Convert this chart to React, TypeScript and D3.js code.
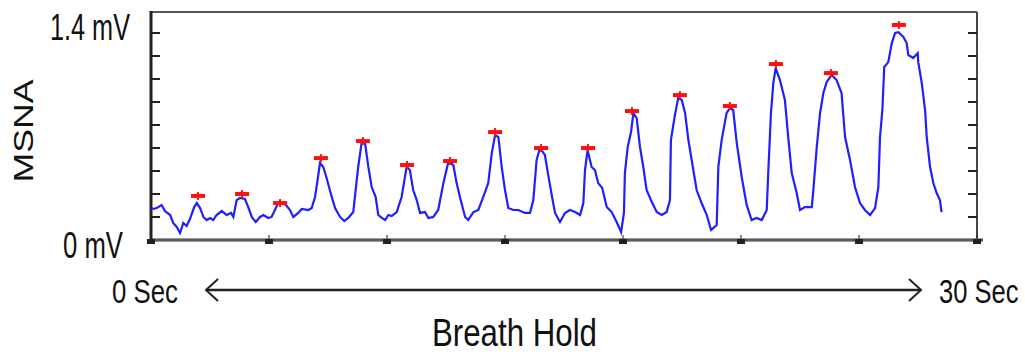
import React from "react";
import * as d3 from "d3";

// MSNA trace: time (s) and amplitude (mV)
const traceTime = [
  0, 0.1, 0.24, 0.45, 0.59, 0.81, 0.94, 1.09, 1.23, 1.37, 1.51, 1.65, 1.83, 1.94, 2.08, 2.22, 2.36, 2.5, 2.64, 2.78,
  3.0, 3.21, 3.39, 3.49, 3.63, 3.77, 3.98, 4.12, 4.27, 4.44, 4.62, 4.76, 4.97, 5.11, 5.25, 5.39, 5.61, 5.75, 5.89, 6.03,
  6.24, 6.39, 6.67, 6.81, 6.95, 7.06, 7.16, 7.3, 7.44, 7.66, 7.8, 8.01, 8.19, 8.36, 8.57, 8.64, 8.78, 8.93, 9.07, 9.21,
  9.35, 9.52, 9.63, 9.78, 9.92, 10.06, 10.2, 10.41, 10.62, 10.83, 10.97, 11.11, 11.26, 11.4, 11.61, 11.75, 11.96, 12.17, 12.39, 12.6,
  12.81, 12.95, 13.09, 13.31, 13.44, 13.66, 13.87, 14.08, 14.29, 14.44, 14.58, 14.72, 14.86, 15.0, 15.14, 15.35, 15.56, 15.85, 16.06, 16.2,
  16.34, 16.48, 16.69, 16.83, 16.98, 17.12, 17.33, 17.54, 17.75, 17.97, 18.18, 18.32, 18.39, 18.5, 18.67, 18.81, 18.95, 19.12, 19.31, 19.52,
  19.73, 19.92, 20.04, 20.08, 20.2, 20.34, 20.44, 20.58, 20.72, 20.86, 21.0, 21.22, 21.43, 21.64, 21.85, 21.99, 22.03, 22.2, 22.34, 22.49,
  22.63, 22.77, 22.91, 23.12, 23.33, 23.55, 23.73, 23.97, 24.04, 24.18, 24.39, 24.53, 24.67, 24.82, 25.03, 25.24, 25.45, 25.66, 25.88, 26.09,
  26.16, 26.27, 26.37, 26.47, 26.65, 26.86, 27.0, 27.15, 27.36, 27.5, 27.71, 28.0, 28.06, 28.21, 28.35, 28.49, 28.63, 28.84, 29.05, 29.26,
  29.41, 29.62, 29.83, 30.04, 30.25, 30.47, 30.68, 30.82, 30.89, 30.99, 31.07, 31.24, 31.39, 31.53, 31.67, 31.88, 32.02, 32.09, 32.3, 32.49,
  32.51, 32.66, 32.8, 32.87, 33.01, 33.15, 33.29, 33.43, 33.5,
];
const traceMv = [
  0.216, 0.21, 0.216, 0.237, 0.196, 0.169, 0.115, 0.088, 0.047, 0.115, 0.095, 0.142, 0.223, 0.25, 0.216, 0.156, 0.135, 0.149, 0.135, 0.169,
  0.196, 0.169, 0.183, 0.156, 0.27, 0.284, 0.277, 0.223, 0.156, 0.122, 0.156, 0.169, 0.149, 0.156, 0.203, 0.25, 0.25, 0.23, 0.203, 0.156,
  0.183, 0.21, 0.203, 0.216, 0.291, 0.406, 0.521, 0.494, 0.419, 0.291, 0.216, 0.156, 0.128, 0.149, 0.189, 0.291, 0.494, 0.663, 0.656, 0.494,
  0.358, 0.291, 0.169, 0.149, 0.135, 0.169, 0.162, 0.189, 0.291, 0.494, 0.473, 0.338, 0.27, 0.183, 0.189, 0.149, 0.156, 0.203, 0.385, 0.527,
  0.507, 0.385, 0.291, 0.156, 0.135, 0.189, 0.203, 0.291, 0.385, 0.588, 0.71, 0.696, 0.494, 0.338, 0.216, 0.203, 0.203, 0.183, 0.183, 0.27,
  0.541, 0.622, 0.575, 0.44, 0.304, 0.183, 0.122, 0.183, 0.203, 0.189, 0.169, 0.25, 0.473, 0.609, 0.494, 0.473, 0.385, 0.352, 0.223, 0.189,
  0.122, 0.054, 0.183, 0.453, 0.629, 0.73, 0.859, 0.825, 0.629, 0.494, 0.338, 0.257, 0.189, 0.169, 0.189, 0.27, 0.676, 0.845, 0.96, 0.947,
  0.859, 0.676, 0.541, 0.338, 0.25, 0.169, 0.068, 0.101, 0.494, 0.676, 0.859, 0.892, 0.879, 0.656, 0.426, 0.237, 0.135, 0.149, 0.135, 0.203,
  0.473, 0.859, 1.062, 1.163, 1.082, 0.947, 0.696, 0.453, 0.318, 0.203, 0.223, 0.223, 0.325, 0.629, 0.859, 0.994, 1.068, 1.116, 1.082, 0.994,
  0.696, 0.541, 0.358, 0.25, 0.203, 0.169, 0.216, 0.358, 0.696, 0.879, 1.17, 1.203, 1.332, 1.4, 1.406, 1.373, 1.332, 1.251, 1.231, 1.264,
  1.203, 1.062, 0.879, 0.696, 0.494, 0.385, 0.318, 0.27, 0.189,
];

// detected burst peaks (red markers)
const peakTime = [1.99, 3.86, 5.47, 7.2, 8.98, 10.85, 12.67, 14.58, 16.53, 18.52, 20.38, 22.41, 24.53, 26.48, 28.81, 31.69];
const peakMv = [0.298, 0.311, 0.25, 0.554, 0.669, 0.507, 0.534, 0.73, 0.622, 0.622, 0.872, 0.98, 0.906, 1.19, 1.129, 1.454];

const xTicks = [0, 5, 10, 15, 20, 25, 30, 35];
const yTicks = [1, 2, 3, 4, 5, 6, 7, 8, 9].map((i) => (i * 1.4) / 9);
const yLabels = ["0 mV", "1.4 mV"];
const yTitle = "MSNA";
const arrowLabels = ["0 Sec", "30 Sec"];
const xTitle = "Breath Hold";

const FONT = "'Liberation Sans Narrow', 'Liberation Sans', Arial, sans-serif";

export default function App() {
  const W = 1025;
  const H = 354;
  const x = d3.scaleLinear().domain([0, 35]).range([151, 977]);
  const y = d3.scaleLinear().domain([0, 1.4]).range([240, 33]);
  const top = 12;

  const data = traceTime.map((t, i) => [t, traceMv[i]] as [number, number]);
  const line = d3
    .line<[number, number]>()
    .x((d) => x(d[0]))
    .y((d) => y(d[1]));

  const x0 = x.range()[0];
  const x1 = x.range()[1];
  const yb = y(0);

  return (
    <svg
      width={W}
      height={H}
      style={{ position: "absolute", left: 0, top: 0, display: "block", background: "#fff" }}
    >
      <rect x={0} y={0} width={W} height={H} fill="#fff" />
      {/* frame */}
      <line x1={x0} x2={x1} y1={top} y2={top} stroke="#555" strokeWidth={2} />
      <line x1={x1} x2={x1} y1={top} y2={yb} stroke="#444" strokeWidth={2} />
      <line x1={x0} x2={x1 + 6} y1={yb} y2={yb} stroke="#9a9a9a" strokeWidth={4} />
      <line x1={x0} x2={x1 + 6} y1={yb} y2={yb} stroke="#444" strokeWidth={1.5} />
      <line x1={x0} x2={x0} y1={top - 1} y2={yb + 1} stroke="#222" strokeWidth={3} />

      {/* y ticks, left and right, inward */}
      {yTicks.map((v, i) => (
        <g key={i}>
          <line x1={x0} x2={x0 + 9} y1={y(v)} y2={y(v)} stroke="#222" strokeWidth={2} />
          <line x1={x1 - 9} x2={x1} y1={y(v)} y2={y(v)} stroke="#222" strokeWidth={2} />
        </g>
      ))}

      {/* x ticks */}
      {xTicks.map((t, i) => (
        <g key={i}>
          <line x1={x(t)} x2={x(t)} y1={yb - 5} y2={yb} stroke="#222" strokeWidth={1} />
          <rect x={x(t) - 4} y={yb - 1} width={8} height={5} fill="#222" />
        </g>
      ))}

      {/* trace */}
      <path d={line(data) ?? ""} fill="none" stroke="#1f1fff" strokeWidth={2.2} strokeLinejoin="miter" />

      {/* peak markers */}
      {peakTime.map((t, i) => (
        <g key={i} stroke="#ff1010">
          <line x1={x(t) - 7} x2={x(t) + 7} y1={y(peakMv[i])} y2={y(peakMv[i])} strokeWidth={4} />
          <line x1={x(t)} x2={x(t)} y1={y(peakMv[i]) - 4} y2={y(peakMv[i]) + 4} strokeWidth={2} />
        </g>
      ))}

      {/* y labels */}
      <text x={130} y={40} fontFamily={FONT} fontSize={36} textAnchor="end" textLength={80} lengthAdjust="spacingAndGlyphs" fill="#111">
        {yLabels[1]}
      </text>
      <text x={123} y={258} fontFamily={FONT} fontSize={36} textAnchor="end" textLength={60} lengthAdjust="spacingAndGlyphs" fill="#111">
        {yLabels[0]}
      </text>
      <text
        transform="translate(33,131) rotate(-90)"
        fontFamily={FONT}
        fontSize={28}
        textAnchor="middle"
        textLength={103}
        lengthAdjust="spacingAndGlyphs"
        fill="#111"
      >
        {yTitle}
      </text>

      {/* arrow */}
      <line x1={206} x2={921} y1={290} y2={290} stroke="#222" strokeWidth={2.5} />
      <polyline points="218,279 206,290 218,301" fill="none" stroke="#222" strokeWidth={2} />
      <polyline points="909,279 921,290 909,301" fill="none" stroke="#222" strokeWidth={2} />
      <text x={112} y={303} fontFamily={FONT} fontSize={34} textLength={66} lengthAdjust="spacingAndGlyphs" fill="#111">
        {arrowLabels[0]}
      </text>
      <text
        transform="translate(939,303) scale(0.75,1)"
        fontFamily="'Liberation Sans', Arial, sans-serif"
        fontSize={34}
        textLength={106}
        lengthAdjust="spacingAndGlyphs"
        fill="#111"
      >
        {arrowLabels[1]}
      </text>
      <text x={432} y={346} fontFamily={FONT} fontSize={39} textLength={165} lengthAdjust="spacingAndGlyphs" fill="#111">
        {xTitle}
      </text>
    </svg>
  );
}
